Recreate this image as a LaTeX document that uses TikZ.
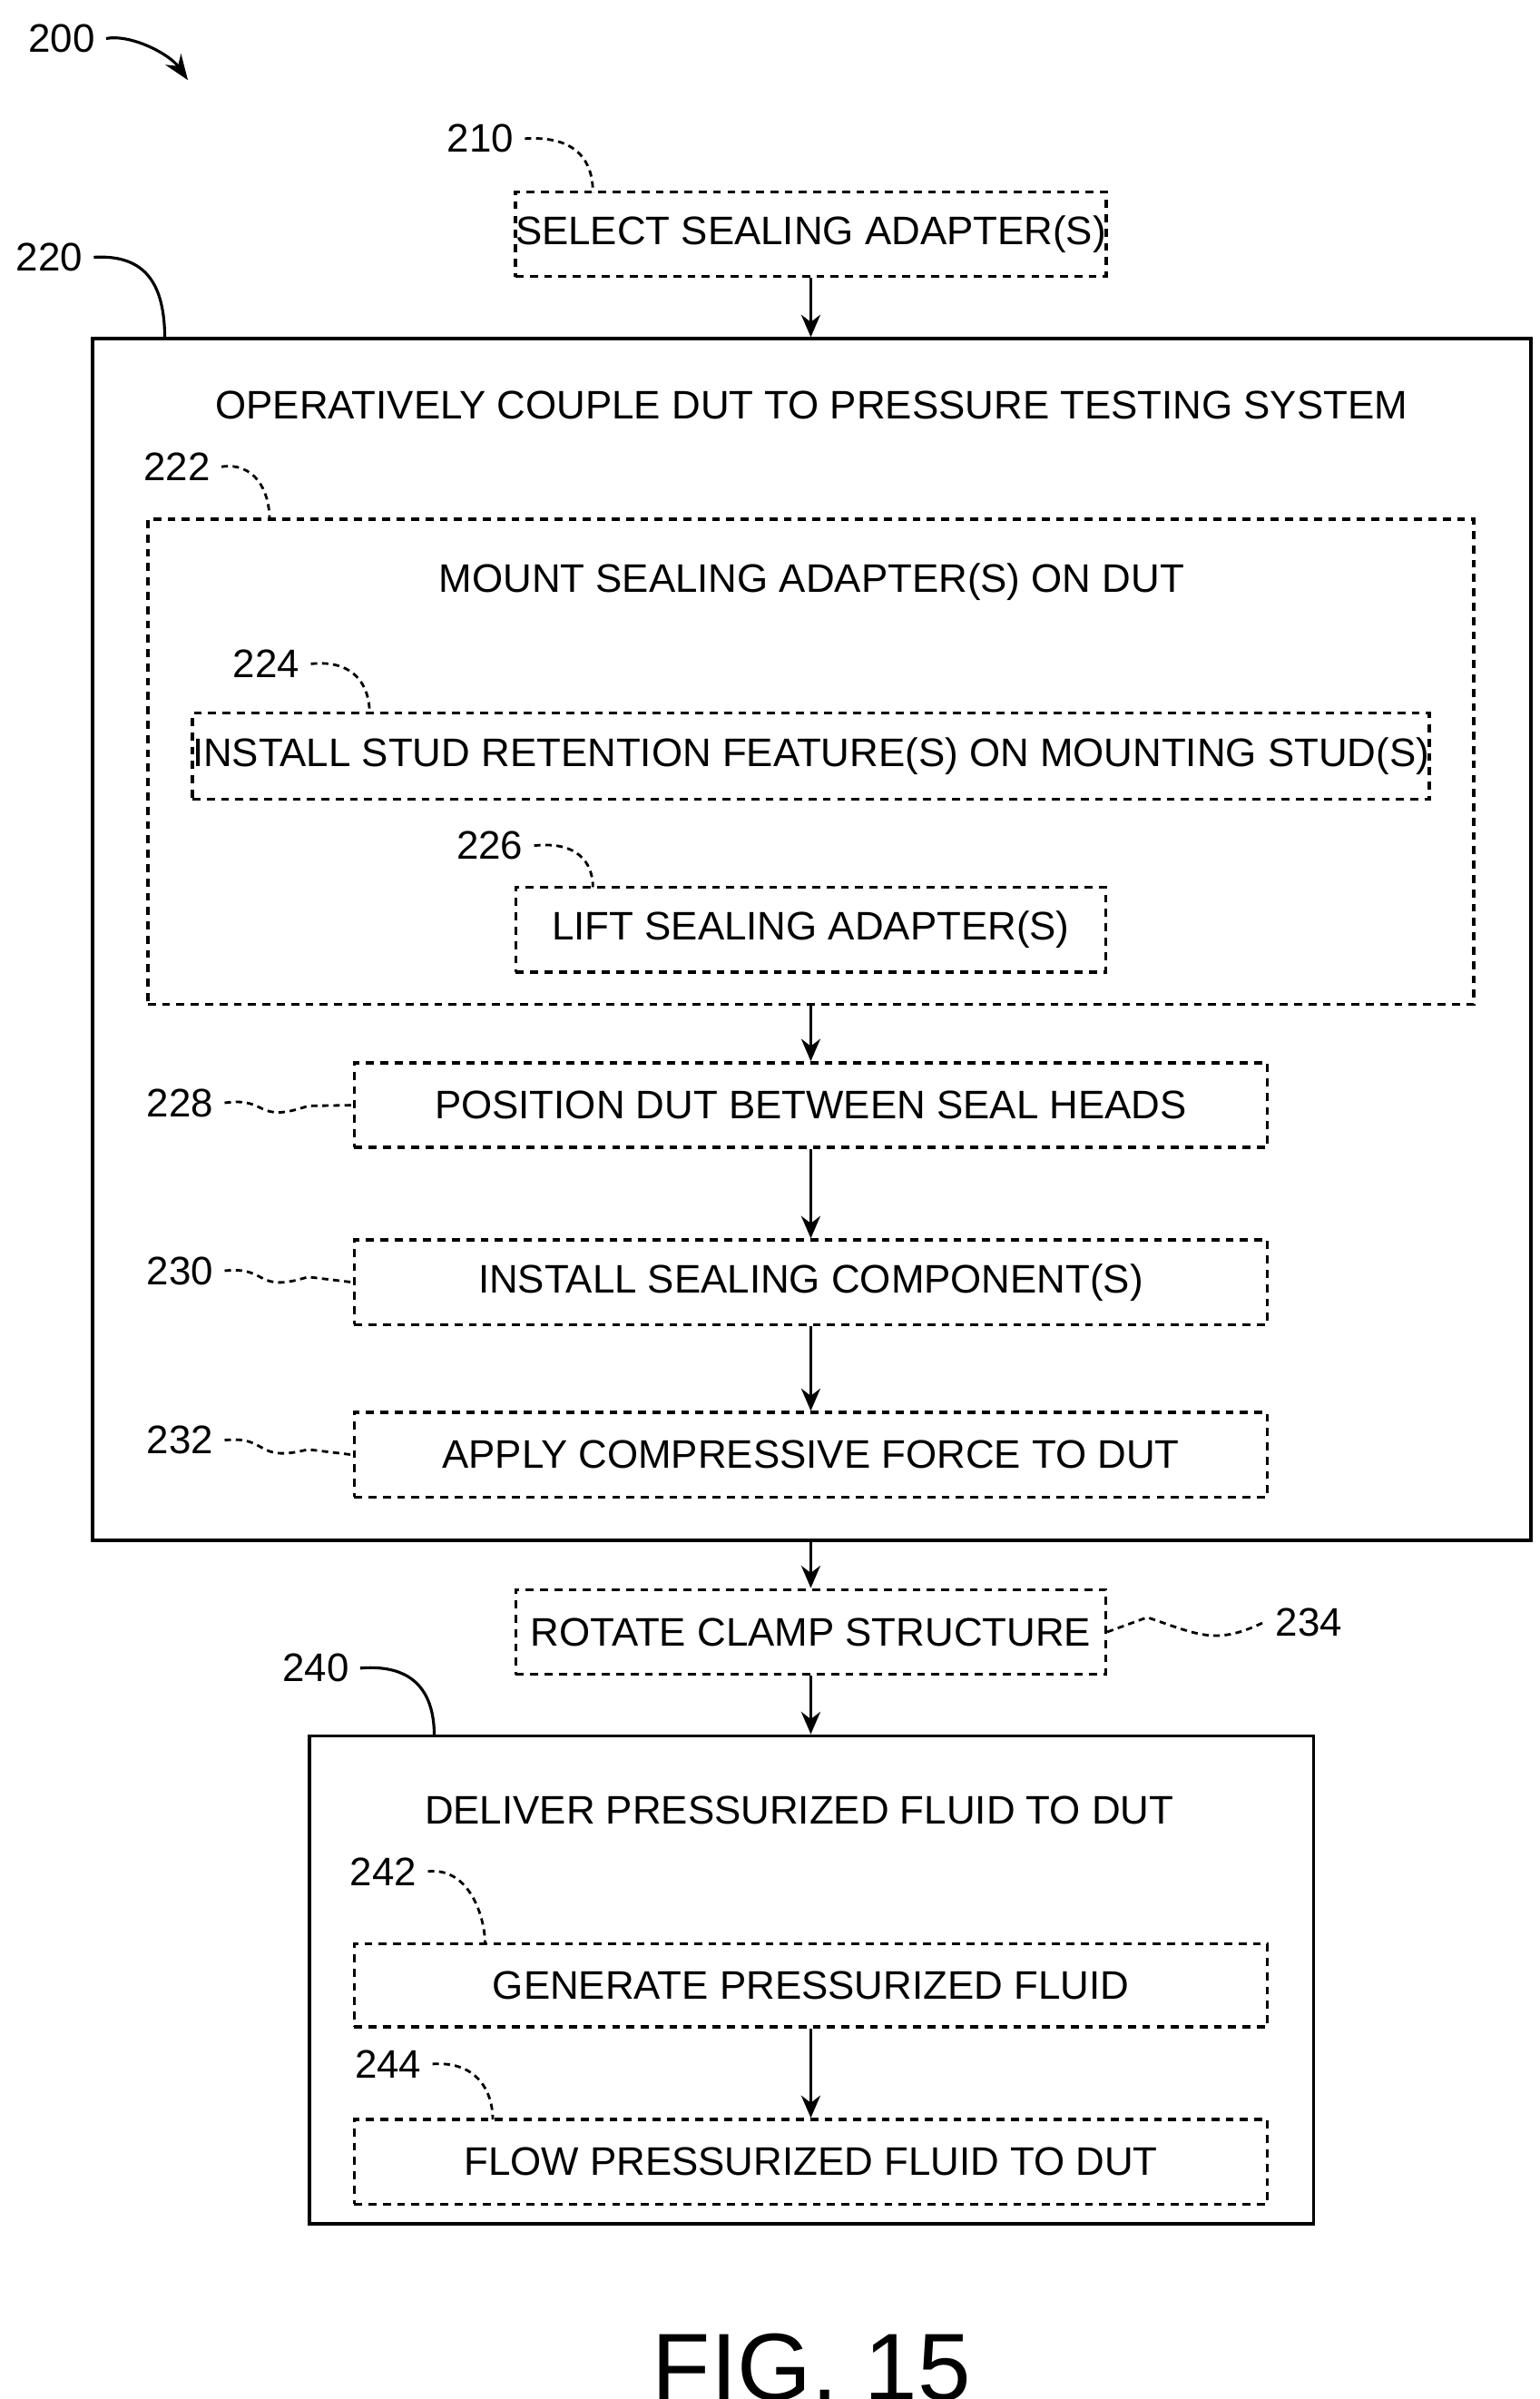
\documentclass[tikz,border=0pt]{standalone}
\usepackage{fontspec}
\setmainfont{Liberation Sans}
\usetikzlibrary{positioning,arrows.meta}

\tikzset{
    stage/.style={draw, dashed, line width=1pt, dash pattern=on 2.5pt off 2pt, inner sep=0pt, font=\fontsize{12.5}{14}\selectfont},
    group/.style={draw, line width=1.1pt, inner sep=0pt},
    title/.style={font=\fontsize{12.5}{14}\selectfont},
    lbl/.style={font=\fontsize{12.5}{14}\selectfont},
    flow/.style={-{Stealth[length=7pt,width=6pt]}, line width=1pt},
    lead/.style={dashed, dash pattern=on 2pt off 1.5pt, line width=0.8pt},
}

\begin{document}
\begin{tikzpicture}[x=0.017cm, y=-0.017cm]
    \useasboundingbox (0,0) rectangle (1000,1557.5);

    % outer groups
    \node[group, minimum width=934*0.017cm, minimum height=780*0.017cm] (couple) at (527,610) {};
    \node[title] (coupleT) at (527,263) {OPERATIVELY COUPLE DUT TO PRESSURE TESTING SYSTEM};
    \node[stage, minimum width=861*0.017cm, minimum height=315*0.017cm] (mount) at (526.5,494.5) {};
    \node[title] (mountT) at (527,378) {MOUNT SEALING ADAPTER(S) ON DUT};
    \node[group, minimum width=652*0.017cm, minimum height=317*0.017cm] (deliver) at (527,1285.5) {};
    \node[title] (deliverT) at (519,1175) {DELIVER PRESSURIZED FLUID TO DUT};

    % steps
    \node[stage, minimum width=383*0.017cm, minimum height=55*0.017cm] (select) at (526.5,152) {SELECT SEALING ADAPTER(S)};
    \node[stage, minimum width=779*0.017cm, minimum height=56*0.017cm] (stud) at (526.5,491) {INSTALL STUD RETENTION FEATURE(S) ON MOUNTING STUD(S)};
    \node[stage, minimum width=383*0.017cm, minimum height=55*0.017cm] (lift) at (526.5,603.5) {LIFT SEALING ADAPTER(S)};
    \node[stage, minimum width=593*0.017cm, minimum height=55*0.017cm] (position) at (526.5,717.5) {POSITION DUT BETWEEN SEAL HEADS};
    \node[stage, minimum width=593*0.017cm, minimum height=55*0.017cm] (sealing) at (526.5,832.5) {INSTALL SEALING COMPONENT(S)};
    \node[stage, minimum width=593*0.017cm, minimum height=55*0.017cm] (force) at (526.5,944.5) {APPLY COMPRESSIVE FORCE TO DUT};
    \node[stage, minimum width=383*0.017cm, minimum height=55*0.017cm] (rotate) at (526.5,1059.5) {ROTATE CLAMP STRUCTURE};
    \node[stage, minimum width=593*0.017cm, minimum height=54*0.017cm] (generate) at (526.5,1289) {GENERATE PRESSURIZED FLUID};
    \node[stage, minimum width=593*0.017cm, minimum height=55*0.017cm] (flowdut) at (526.5,1403.5) {FLOW PRESSURIZED FLUID TO DUT};

    % flow arrows
    \draw[flow] (select.south) -- (select.south |- couple.north);
    \draw[flow] (mount.south) -- (position.north);
    \draw[flow] (position) -- (sealing);
    \draw[flow] (sealing) -- (force);
    \draw[flow] (couple.south -| rotate) -- (rotate.north);
    \draw[flow] (rotate.south) -- (rotate.south |- deliver.north);
    \draw[flow] (generate) -- (flowdut);

    % reference numerals
    \node[lbl] (n200) at (40,25) {200};
    \node[lbl] (n210) at (312,90) {210};
    \node[lbl] (n220) at (32,167) {220};
    \node[lbl] (n222) at (115,303) {222};
    \node[lbl] (n224) at (173,431) {224};
    \node[lbl] (n226) at (318,549) {226};
    \node[lbl] (n228) at (117,716) {228};
    \node[lbl] (n230) at (117,825) {230};
    \node[lbl] (n232) at (117,935) {232};
    \node[lbl] (n234) at (850,1053) {234};
    \node[lbl] (n240) at (205,1083) {240};
    \node[lbl] (n242) at (249,1215) {242};
    \node[lbl] (n244) at (252,1340) {244};

    % leaders
    \coordinate (c210) at (385,125);
    \coordinate (c220) at (107,220);
    \coordinate (c222) at (175,337);
    \coordinate (c224) at (240,463);
    \coordinate (c226) at (385,576);
    \coordinate (c240) at (282,1127);
    \coordinate (c242) at (315,1262);
    \coordinate (c244) at (320,1376);
    \coordinate (c200) at (122,52);

    \draw[-{Stealth[length=8pt,width=6pt]}, line width=0.9pt] (n200.east) .. controls (85,22) and (110,35) .. (c200);
    \draw[line width=0.9pt] (n220.east) .. controls (95,165) and (107,185) .. (c220);
    \draw[line width=0.9pt] (n240.east) .. controls (270,1080) and (282,1100) .. (c240);
    \draw[lead] (n210.east) .. controls (375,88) and (385,105) .. (c210);
    \draw[lead] (n222.east) .. controls (165,300) and (175,318) .. (c222);
    \draw[lead] (n224.east) .. controls (230,428) and (240,445) .. (c224);
    \draw[lead] (n226.east) .. controls (375,546) and (385,560) .. (c226);
    \draw[lead] (n242.east) .. controls (305,1212) and (315,1245) .. (c242);
    \draw[lead] (n244.east) .. controls (310,1338) and (320,1358) .. (c244);
    \draw[lead] (n228.east) .. controls (175,712) and (165,730) .. (200,718) -- (position.west);
    \draw[lead] (n230.east) .. controls (175,822) and (165,840) .. (200,829) -- (sealing.west);
    \draw[lead] (n232.east) .. controls (175,932) and (165,950) .. (200,941) -- (force.west);
    \draw[lead] (rotate.east) -- (745,1050) .. controls (780,1062) and (790,1068) .. (n234.west);

    \node[font=\fontsize{30}{34}\selectfont] (fig) at (527,1537) {FIG. 15};
\end{tikzpicture}
\end{document}
